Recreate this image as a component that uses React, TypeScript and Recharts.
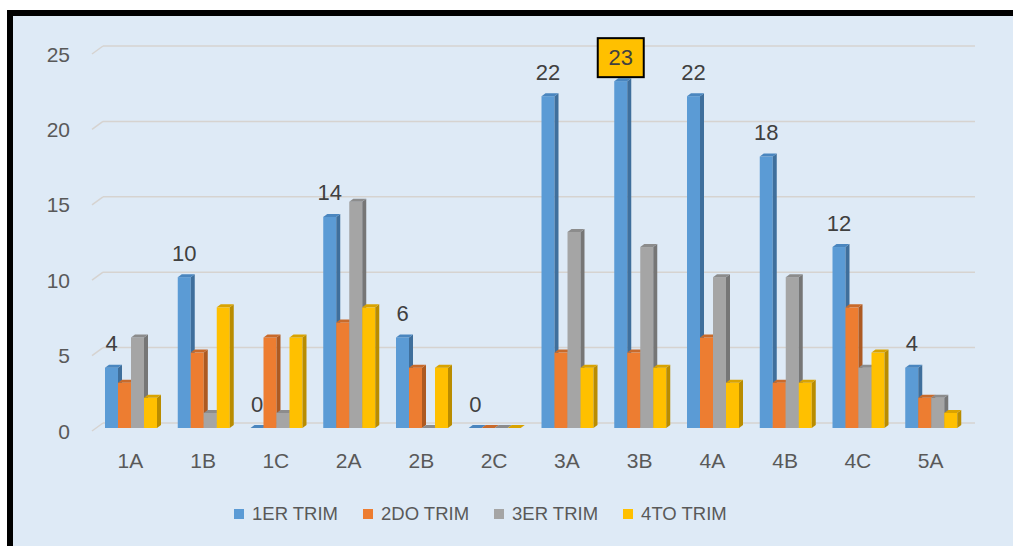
import React from 'react';
import { BarChart, Bar, XAxis, YAxis, CartesianGrid, LabelList, Legend } from 'recharts';

const categories = ['1A', '1B', '1C', '2A', '2B', '2C', '3A', '3B', '4A', '4B', '4C', '5A'];
const trim1 = [4, 10, 0, 14, 6, 0, 22, 23, 22, 18, 12, 4];
const trim2 = [3, 5, 6, 7, 4, 0, 5, 5, 6, 3, 8, 2];
const trim3 = [6, 1, 1, 15, 0, 0, 13, 12, 10, 10, 4, 2];
const trim4 = [2, 8, 6, 8, 4, 0, 4, 4, 3, 3, 5, 1];
const yTicks = [0, 5, 10, 15, 20, 25];
const highlightCategory = '3B';

const seriesNames = ['1ER TRIM', '2DO TRIM', '3ER TRIM', '4TO TRIM'];
const seriesKeys = ['t1', 't2', 't3', 't4'];
const frontColors = ['#5b9bd5', '#ed7d31', '#a5a5a5', '#ffc000'];
const sideColors = ['#3f6f9c', '#ad5a22', '#767676', '#b98c00'];
const topColors = ['#4a86bf', '#c96a2a', '#8c8c8c', '#d9a300'];

const data = categories.map((c, i) => ({
  name: c,
  t1: trim1[i],
  t2: trim2[i],
  t3: trim3[i],
  t4: trim4[i],
}));

const SHIFT = 3;
const DX = 4;
const DY = 3;
const FONT = 'Liberation Sans, Arial, sans-serif';

const make3D = (si: number) => (props: any) => {
  const { x, y, width, height } = props;
  if (x == null || y == null) return <g />;
  const X = x + SHIFT;
  const w = width;
  const h = Math.max(0, height);
  return (
    <g>
      <rect x={X} y={y} width={w} height={h} fill={frontColors[si]} />
      <polygon
        points={`${X + w},${y} ${X + w + DX},${y - DY} ${X + w + DX},${y + h - DY} ${X + w},${y + h}`}
        fill={sideColors[si]}
      />
      <polygon
        points={`${X},${y} ${X + DX},${y - DY} ${X + w + DX},${y - DY} ${X + w},${y}`}
        fill={topColors[si]}
      />
    </g>
  );
};

const YTick = (props: any) => {
  const { x, y, payload } = props;
  return (
    <text x={x} y={y + 3} textAnchor="end" dominantBaseline="central" fontSize={21} fill="#595959" fontFamily={FONT}>
      {payload.value}
    </text>
  );
};

const XTick = (props: any) => {
  const { x, y, payload } = props;
  return (
    <text x={x + 2} y={y + 7} textAnchor="middle" dominantBaseline="central" fontSize={21} fill="#595959" fontFamily={FONT}>
      {payload.value}
    </text>
  );
};

const gridLine = (props: any) => {
  const { x1, x2, y1, index } = props;
  return (
    <g key={`g-${index}`}>
      <line x1={x1} y1={y1 + 3} x2={x1 + 11} y2={y1 - 5} stroke="#d6d3d0" strokeWidth={1.5} />
      <line x1={x1 + 11} y1={y1 - 5} x2={x2 + 10} y2={y1 - 5} stroke="#d6d3d0" strokeWidth={1.5} />
    </g>
  );
};

const ValueLabel = (props: any) => {
  const { x, y, width, value, index } = props;
  const cx = x + width / 2 + SHIFT;
  const cy = y - 24;
  const isHi = categories[index] === highlightCategory;
  return (
    <g>
      {isHi && <rect x={cx - 23} y={cy - 19} width={46} height={39} fill="#ffc000" stroke="#000" strokeWidth={2} />}
      <text x={cx} y={cy} textAnchor="middle" dominantBaseline="central" fontSize={22} fill="#404040" fontFamily={FONT}>
        {value}
      </text>
    </g>
  );
};

const LegendContent = () => (
  <div style={{ display: 'flex', alignItems: 'center', fontFamily: FONT, fontSize: 18.5, color: '#595959', whiteSpace: 'nowrap' }}>
    {seriesNames.map((n, i) => (
      <div key={n} style={{ display: 'flex', alignItems: 'center', marginRight: i < 3 ? 25 : 0 }}>
        <div style={{ width: 10, height: 10, background: frontColors[i], marginRight: 8 }} />
        <span>{n}</span>
      </div>
    ))}
  </div>
);

export default function App() {
  return (
    <div style={{ position: 'absolute', left: 0, top: 0, width: 1013, height: 546, background: '#fff' }}>
      <div
        style={{
          position: 'absolute',
          left: 7,
          top: 10,
          width: 1013 - 7 - 6,
          height: 546 - 10 - 6,
          borderLeft: '6px solid #000',
          borderTop: '6px solid #000',
          background: '#deeaf6',
        }}
      />
      <div style={{ position: 'absolute', left: 0, top: 0 }}>
        <BarChart
          width={1013}
          height={546}
          data={data}
          margin={{ top: 51, right: 48, bottom: 88, left: 0 }}
          barSize={13}
          barGap={0}
        >
          <CartesianGrid vertical={false} horizontal={gridLine} />
          <XAxis dataKey="name" axisLine={false} tickLine={false} tickSize={0} tickMargin={25} height={30} tick={<XTick />} interval={0} />
          <YAxis domain={[0, 25]} ticks={yTicks} axisLine={false} tickLine={false} tickSize={0} tickMargin={22} width={92} tick={<YTick />} interval={0} />
          <Legend layout="vertical" align="center" verticalAlign="middle" content={<LegendContent />} wrapperStyle={{ left: 234, top: 503, width: 'auto', height: 'auto' }} />
          {seriesKeys.map((k, i) => (
            <Bar key={k} dataKey={k} name={seriesNames[i]} fill={frontColors[i]} shape={make3D(i)} isAnimationActive={false}>
              {i === 0 && <LabelList dataKey={k} content={<ValueLabel />} />}
            </Bar>
          ))}
        </BarChart>
      </div>
    </div>
  );
}
